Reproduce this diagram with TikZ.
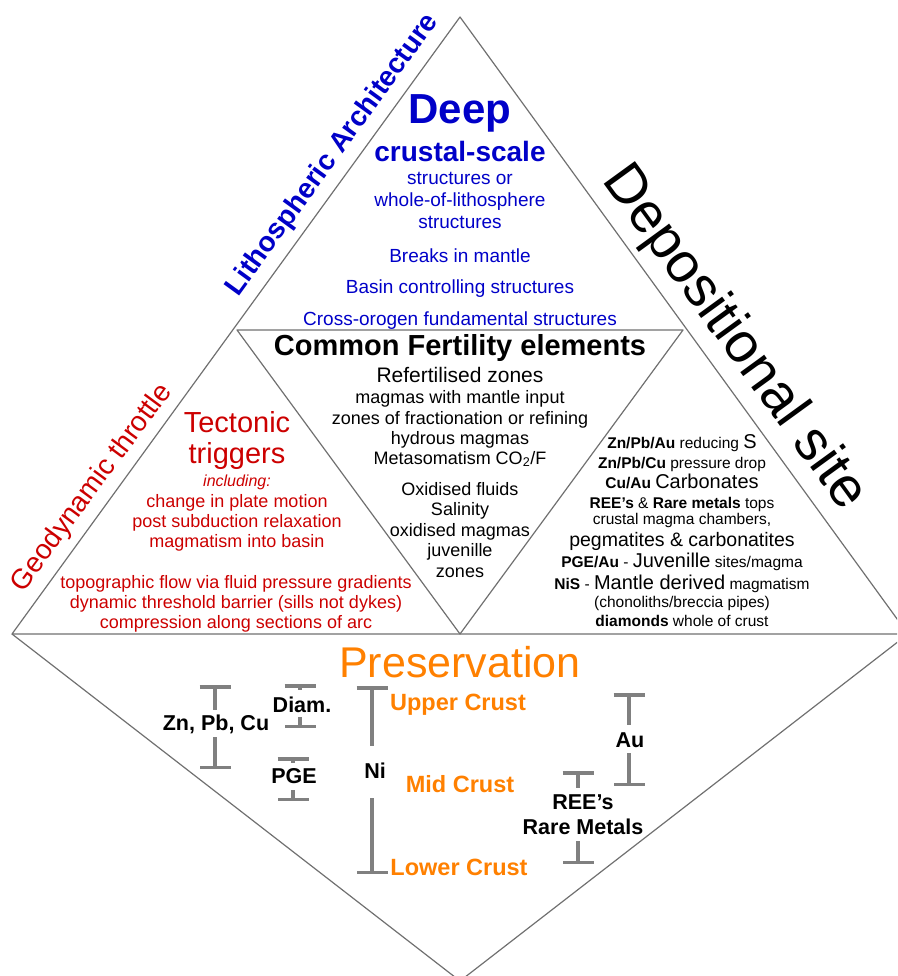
\documentclass[tikz,border=0pt]{standalone}
\usepackage{fontspec}
\setmainfont{Liberation Sans}
\usetikzlibrary{arrows.meta}
\definecolor{deepblue}{RGB}{0,0,200}
\definecolor{trigred}{RGB}{204,0,0}
\definecolor{presorange}{RGB}{255,128,0}
\definecolor{edgegray}{RGB}{112,112,112}
\definecolor{bargray}{RGB}{128,128,128}
\newcommand{\smtxt}{\fontsize{15.5}{18}\selectfont}
\newcommand{\bgtxt}{\fontsize{20}{24}\selectfont}

\begin{document}
\begin{tikzpicture}[x=1pt,y=-1pt,
  edge/.style={draw=edgegray, line width=1.2pt, line join=round},
  blu/.style={text=deepblue, anchor=base, inner sep=0pt, font=\fontsize{19}{22}\selectfont},
  blk/.style={text=black, anchor=base, inner sep=0pt, font=\fontsize{18}{21}\selectfont},
  rd/.style={text=trigred, anchor=base, inner sep=0pt, font=\fontsize{18}{21}\selectfont},
  rgt/.style={text=black, anchor=base, inner sep=0pt, font=\smtxt},
  org/.style={text=presorange, anchor=base, inner sep=0pt, font=\bfseries\fontsize{23.5}{26}\selectfont},
  lbl/.style={text=black, anchor=base, inner sep=0pt, text height=16pt, text depth=4pt, font=\bfseries\fontsize{21.5}{24}\selectfont},
  ibar/.style={draw=bargray, line width=3.5pt, -{Bar[width=31pt 0 1, line width=3.5pt]}}]
\useasboundingbox (0,0) rectangle (897,976);
\clip (0,0) rectangle (897,976);

% frame
\coordinate (apex) at (460,17);
\coordinate (lc) at (12,634);
\coordinate (rc) at (908,634);
\coordinate (il) at (237,330);
\coordinate (ir) at (683,330);
\coordinate (ib) at (460,634);
\coordinate (bot) at (460,981);
\draw[edge] (apex) -- (lc) -- (rc) -- cycle;
\draw[edge] (il) -- (ir) -- (ib) -- cycle;
\draw[edge] (lc) -- (bot) -- (rc);

% side titles
\node[text=deepblue, font=\bfseries\fontsize{28}{30}\selectfont, rotate=54, inner sep=0pt] (litho) at (333,155) {Lithospheric Architecture};
\node[text=black, font=\fontsize{56}{60}\selectfont, rotate=-54, inner sep=0pt] (depo) at (734,338) {Depositional site};
\node[text=trigred, font=\fontsize{28}{30}\selectfont, rotate=53.5, inner sep=0pt] (geody) at (92,488) {Geodynamic throttle};

% top
\node[blu, font=\bfseries\fontsize{42}{46}\selectfont] (deep) at (460,124) {Deep};
\node[blu, font=\bfseries\fontsize{28}{31}\selectfont] (crustal) at (460,162) {crustal-scale};
\node[blu] (struc1) at (460,185) {structures or};
\node[blu] (whole) at (460,207) {whole-of-lithosphere};
\node[blu] (struc2) at (460,229) {structures};
\node[blu] (breaks) at (460,262) {Breaks in mantle};
\node[blu] (basin) at (460,293) {Basin controlling structures};
\node[blu] (cross) at (460,325) {Cross-orogen fundamental structures};

% middle
\node[blk, font=\bfseries\fontsize{29}{32}\selectfont] (common) at (460,355) {Common Fertility elements};
\node[blk, font=\fontsize{21}{24}\selectfont] (refert) at (460,382) {Refertilised zones};
\node[blk] (magin) at (460,403) {magmas with mantle input};
\node[blk] (fract) at (460,424) {zones of fractionation or refining};
\node[blk] (hydr) at (460,444) {hydrous magmas};
\node[blk] (meta) at (460,464) {Metasomatism CO\textsubscript{2}/F};
\node[blk] (oxfl) at (460,495) {Oxidised fluids};
\node[blk] (salin) at (460,515) {Salinity};
\node[blk] (oxmag) at (460,536) {oxidised magmas};
\node[blk] (juv) at (460,556) {juvenille};
\node[blk] (zones) at (460,577) {zones};

% left
\node[rd, font=\fontsize{29}{32}\selectfont] (tect) at (237,432) {Tectonic};
\node[rd, font=\fontsize{29}{32}\selectfont] (trig) at (237,463) {triggers};
\node[rd, font=\itshape\fontsize{16}{19}\selectfont] (incl) at (237,486) {including:};
\node[rd] (plate) at (237,507) {change in plate motion};
\node[rd] (post) at (237,527) {post subduction relaxation};
\node[rd] (magbas) at (237,547) {magmatism into basin};
\node[rd] (topo) at (236,588) {topographic flow via fluid pressure gradients};
\node[rd] (dyn) at (236,608) {dynamic threshold barrier (sills not dykes)};
\node[rd] (comp) at (236,628) {compression along sections of arc};

% right
\node[rgt] (r1) at (682,448) {\textbf{Zn/Pb/Au} reducing {\bgtxt S}};
\node[rgt] (r2) at (682,468) {\textbf{Zn/Pb/Cu} pressure drop};
\node[rgt] (r3) at (682,488) {\textbf{Cu/Au} {\bgtxt Carbonates}};
\node[rgt] (r4) at (682,508) {\textbf{REE’s} \& \textbf{Rare metals} tops};
\node[rgt] (r5) at (682,524) {crustal magma chambers,};
\node[rgt, font=\fontsize{19.5}{22}\selectfont] (r6) at (682,546) {pegmatites \& carbonatites};
\node[rgt] (r7) at (682,567) {\textbf{PGE/Au} - {\bgtxt Juvenille} sites/magma};
\node[rgt] (r8) at (682,589) {\textbf{NiS} - {\bgtxt Mantle derived} magmatism};
\node[rgt] (r9) at (682,607) {(chonoliths/breccia pipes)};
\node[rgt] (r10) at (682,626) {\textbf{diamonds} whole of crust};

% bottom
\node[org, font=\fontsize{43}{47}\selectfont] (pres) at (460,677) {Preservation};
\node[org] (upper) at (458,710) {Upper Crust};
\node[org] (mid) at (460,792) {Mid Crust};
\node[org] (lower) at (459,875) {Lower Crust};

\node[lbl] (znpbcu) at (216,730) {Zn, Pb, Cu};
\node[lbl] (diam) at (302,712) {Diam.};
\node[lbl] (pge) at (294,783) {PGE};
\node[lbl] (ni) at (375,778) {Ni};
\node[lbl] (au) at (630,747) {Au};
\node[lbl] (ree) at (583,809) {REE’s};
\node[lbl] (rare) at (583,834) {Rare Metals};

\coordinate (zntop) at (215,685);
\coordinate (znbot) at (215,769);
\coordinate (diamtop) at (300,684);
\coordinate (diambot) at (300,728);
\coordinate (pgetop) at (293,757);
\coordinate (pgebot) at (293,801);
\coordinate (nitop) at (372,686);
\coordinate (nibot) at (372,874);
\coordinate (autop) at (629,693);
\coordinate (aubot) at (629,786);
\coordinate (reetop) at (578,771);
\coordinate (reebot) at (578,864);

\draw[ibar, shorten <=4pt] (znpbcu.north -| zntop) -- (zntop);
\draw[ibar, shorten <=3pt] (znpbcu.south -| znbot) -- (znbot);
\draw[ibar, shorten <=6pt] (diam.north -| diamtop) -- (diamtop);
\draw[ibar, shorten <=1pt] (diam.south -| diambot) -- (diambot);
\draw[ibar, shorten <=4pt] (pge.north -| pgetop) -- (pgetop);
\draw[ibar, shorten <=3pt] (pge.south -| pgebot) -- (pgebot);
\draw[ibar, shorten <=16pt] (ni.north -| nitop) -- (nitop);
\draw[ibar, shorten <=16pt] (ni.south -| nibot) -- (nibot);
\draw[ibar, shorten <=6pt] (au.north -| autop) -- (autop);
\draw[ibar, shorten <=2pt] (au.south -| aubot) -- (aubot);
\draw[ibar, shorten <=5pt] (ree.north -| reetop) -- (reetop);
\draw[ibar, shorten <=3pt] (rare.south -| reebot) -- (reebot);
\end{tikzpicture}
\end{document}
